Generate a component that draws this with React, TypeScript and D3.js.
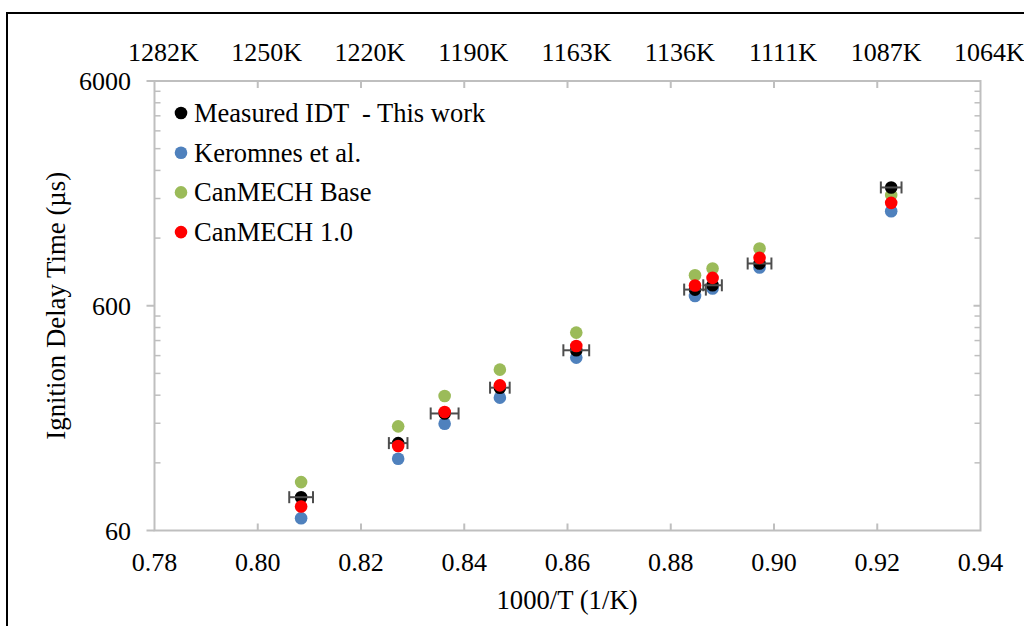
import React from "react";
import * as d3 from "d3";

const invT = [0.8084, 0.8272, 0.8362, 0.8469, 0.8617, 0.8847, 0.8881, 0.8972, 0.9227];
const measured = [84.4, 146.9, 199, 259.2, 380.2, 708, 740, 925, 2016];
const measuredErr = [0.0023, 0.0018, 0.0027, 0.0019, 0.0025, 0.0021, 0.0018, 0.0023, 0.002];
const keromnes = [68.0, 125.2, 179.2, 234, 352.7, 663.5, 716, 888, 1581];
const canBase = [98.5, 174.4, 237.9, 311.8, 455.8, 820, 879, 1079, 1864];
const can10 = [76.7, 142.5, 201.9, 265.4, 397.3, 738, 798, 980, 1722];

const xTicks = [0.78, 0.8, 0.82, 0.84, 0.86, 0.88, 0.9, 0.92, 0.94];
const topLabels = ["1282K", "1250K", "1220K", "1190K", "1163K", "1136K", "1111K", "1087K", "1064K"];
const yTicks = [60, 600, 6000];
const legendNames = ["Measured IDT  - This work", "Keromnes et al.", "CanMECH Base", "CanMECH 1.0"];
const colors = ["#000000", "#4f81bd", "#9bbb59", "#ff0000"];

const W = 1024, H = 626;
const left = 154.5, right = 980.5, top = 81, bottom = 530.5;
const FONT = "'Liberation Serif', 'Times New Roman', serif";
const AX = "#bfbfbf";

export default function App() {
  const x = d3.scaleLinear().domain([0.78, 0.94]).range([left, right]);
  const y = d3.scaleLog().domain([60, 6000]).range([bottom, top]);
  const minor: number[] = [];
  [60, 600].forEach((d) => { for (let k = 2; k <= 9; k++) minor.push(d * k); });
  const r = 6.3;
  const series = [
    { vals: keromnes, c: colors[1] },
    { vals: canBase, c: colors[2] },
  ];
  return (
    <svg width={W} height={H} style={{ position: "absolute", left: 0, top: 0, background: "#fff" }} fontFamily={FONT}>
      <rect x={0} y={0} width={W} height={H} fill="#fff" />
      <rect x={7} y={13} width={1100} height={700} fill="none" stroke="#000" strokeWidth={2} />
      {/* plot frame */}
      <rect x={left} y={top} width={right - left} height={bottom - top} fill="none" stroke={AX} strokeWidth={2} />
      {/* x ticks */}
      {xTicks.slice(1, -1).map((t) => (
        <g key={"xt" + t}>
          <line x1={x(t)} x2={x(t)} y1={bottom} y2={bottom - 7} stroke={AX} strokeWidth={2} />
          <line x1={x(t)} x2={x(t)} y1={top} y2={top + 7} stroke={AX} strokeWidth={2} />
        </g>
      ))}
      {/* y ticks */}
      {yTicks.map((t) => (
        <line key={"ym" + t} x1={left - 8} x2={left} y1={y(t)} y2={y(t)} stroke={AX} strokeWidth={2} />
      ))}
      {yTicks.slice(1, -1).map((t) => (
        <line key={"yr" + t} x1={right} x2={right - 7} y1={y(t)} y2={y(t)} stroke={AX} strokeWidth={2} />
      ))}
      {minor.map((t) => (
        <g key={"mn" + t}>
          <line x1={left} x2={left + 6} y1={y(t)} y2={y(t)} stroke={AX} strokeWidth={1.5} />
          <line x1={right} x2={right - 6} y1={y(t)} y2={y(t)} stroke={AX} strokeWidth={1.5} />
        </g>
      ))}
      {/* tick labels */}
      {xTicks.map((t) => (
        <text key={"xl" + t} x={x(t)} y={571} textAnchor="middle" fontSize={26} fill="#000">
          {t.toFixed(2)}
        </text>
      ))}
      {xTicks.map((t, i) => (
        <text key={"tl" + t} x={x(t) + 9} y={61} textAnchor="middle" fontSize={26} fill="#000">
          {topLabels[i]}
        </text>
      ))}
      {yTicks.map((t) => (
        <text key={"yl" + t} x={131} y={y(t) + 9} textAnchor="end" fontSize={26} fill="#000">
          {t}
        </text>
      ))}
      {/* axis titles */}
      <text x={567} y={609} textAnchor="middle" fontSize={26.7} fill="#000">1000/T (1/K)</text>
      <text transform={`translate(65,${(top + bottom) / 2}) rotate(-90)`} textAnchor="middle" fontSize={26.8} fill="#000">
        Ignition Delay Time (µs)
      </text>
      {/* data */}
      {series.map((s, si) => (
        <g key={"s" + si}>
          {s.vals.map((v, i) => (
            <circle key={i} cx={x(invT[i])} cy={y(v)} r={r} fill={s.c} />
          ))}
        </g>
      ))}
      <g>
        {measured.map((v, i) => (
          <circle key={i} cx={x(invT[i])} cy={y(v)} r={r} fill={colors[0]} />
        ))}
      </g>
      <g stroke="#4d4d4d" strokeWidth={2}>
        {measured.map((v, i) => {
          const x1 = x(invT[i] - measuredErr[i]);
          const x2 = x(invT[i] + measuredErr[i]);
          const yy = y(v);
          return (
            <g key={i}>
              <line x1={x1} x2={x2} y1={yy} y2={yy} />
              <line x1={x1} x2={x1} y1={yy - 6} y2={yy + 6} />
              <line x1={x2} x2={x2} y1={yy - 6} y2={yy + 6} />
            </g>
          );
        })}
      </g>
      <g>
        {can10.map((v, i) => (
          <circle key={i} cx={x(invT[i])} cy={y(v)} r={r} fill={colors[3]} />
        ))}
      </g>
      {/* legend */}
      {legendNames.map((n, i) => (
        <g key={"lg" + i}>
          <circle cx={181} cy={113 + i * 39.7} r={6.3} fill={colors[i]} />
          <text x={194} y={113 + i * 39.7 + 9} fontSize={26.5} fill="#000" xmlSpace="preserve" style={{ whiteSpace: "pre" }}>{n}</text>
        </g>
      ))}
    </svg>
  );
}
